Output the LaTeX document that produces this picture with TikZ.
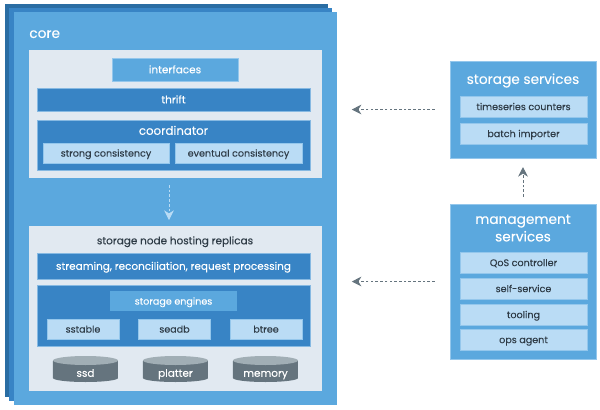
\documentclass[tikz,border=0pt]{standalone}
\usepackage{fontspec}
\setmainfont{Poppins}[FakeBold=0.08]
\usetikzlibrary{arrows.meta}
\definecolor{stackblue}{HTML}{5BA8DE}
\definecolor{midblue}{HTML}{3884C5}
\definecolor{deepblue}{HTML}{2A6DA3}
\definecolor{panelgray}{HTML}{E1E9F1}
\definecolor{paleblue}{HTML}{BADCF5}
\definecolor{slate}{HTML}{65747E}
\definecolor{slatetop}{HTML}{A1AEB5}
\definecolor{inktext}{HTML}{2E3B46}
\tikzset{
    sized/.style 2 args={minimum width=#1*0.02cm,minimum height=#2*0.02cm,inner sep=0pt},
    smalltext/.style={font=\fontsize{5.95}{7.5}\selectfont,text height=6pt,text depth=1.7pt},
    tinytext/.style={font=\fontsize{5.45}{7}\selectfont,text height=5.8pt,text depth=1.7pt},
    bigtext/.style={font=\fontsize{7.8}{10}\selectfont,text height=7pt,text depth=1.4pt,inner sep=0pt},
    layer/.style={fill=#1,draw=none},
    whitebox/.style={fill=midblue,draw=paleblue!60!midblue,line width=0.25pt,text=white,smalltext},
    softbox/.style={fill=stackblue,draw=paleblue!60!stackblue,line width=0.25pt,text=white,smalltext},
    palebox/.style={fill=paleblue,draw=paleblue!60!stackblue,line width=0.25pt,text=inktext,tinytext},
    panel/.style={fill=panelgray,draw=none},
    service/.style={fill=stackblue,draw=paleblue!60!stackblue,line width=0.25pt},
    flow/.style={dash pattern=on 1.5pt off 1.2pt,line width=0.55pt,-{Stealth[length=5.5pt,width=5.5pt]}},
}
\begin{document}
\begin{tikzpicture}[x=0.02cm,y=-0.02cm]
    \useasboundingbox (0,0) rectangle (600,410);
    % stacked core layers
    \filldraw[layer=deepblue] (5,4) rectangle (328,397);
    \filldraw[layer=midblue] (9.5,8) rectangle (332.5,401);
    \node[layer=stackblue,sized={323.5}{393},anchor=north west] (core) at (13.5,12) {};
    \node[anchor=west,text=white,bigtext] (coretitle) at (29,33) {core};

    % upper panel
    \node[panel,sized={293}{128}] (upper) at (175.5,114) {};
    \node[softbox,sized={126}{23}] (interfaces) at (175,69.5) {interfaces};
    \node[whitebox,sized={273}{23}] (thrift) at (173.5,99.5) {thrift};
    \node[whitebox,sized={273}{50}] (coordbox) at (173.5,145) {};
    \node[text=white,smalltext,inner sep=0pt] (coordinator) at (173.5,131) {\fontsize{6.7}{8}\selectfont coordinator};
    \node[palebox,sized={126}{20}] (strong) at (106,153) {strong consistency};
    \node[palebox,sized={127}{20}] (eventual) at (238.5,153) {eventual consistency};

    % lower panel
    \node[panel,sized={293}{165}] (lower) at (175.5,308.5) {};
    \node[text=inktext,smalltext,inner sep=0pt] (hosting) at (175,240.5) {storage node hosting replicas};
    \node[whitebox,sized={273}{26}] (streaming) at (173.5,266) {streaming, reconciliation, request processing};
    \node[whitebox,sized={273}{61}] (enginebox) at (173.5,315.5) {};
    \node[softbox,draw=none,tinytext,sized={127}{20}] (engines) at (173.5,301) {storage engines};
    \node[palebox,sized={72}{20}] (sstable) at (83,329) {sstable};
    \node[palebox,sized={72}{20}] (seadb) at (174.5,329) {seadb};
    \node[palebox,sized={72}{20}] (btree) at (266,329) {btree};

    % disks
    \foreach \name/\cx/\txt in {ssd/85.5/ssd,platter/175.5/platter,memory/265.5/memory} {
        \fill[slate] (\cx-32.5,361) -- (\cx-32.5,378) arc[start angle=180,end angle=0,x radius=32.5,y radius=4]
            -- (\cx+32.5,361) -- cycle;
        \fill[slatetop] (\cx,360.5) ellipse[x radius=32.5,y radius=4.5];
        \node[text=white,smalltext,inner sep=0pt] (\name) at (\cx,373) {\txt};
    }

    % storage services
    \node[service,sized={146}{97}] (storage) at (523,109.5) {};
    \node[text=white,bigtext] (storagetitle) at (523,79) {storage services};
    \node[palebox,sized={127}{21}] (timeseries) at (523.5,106.5) {timeseries counters};
    \node[palebox,sized={127}{21}] (batch) at (523.5,133.5) {batch importer};

    % management services
    \node[service,sized={146}{155}] (management) at (523,281.5) {};
    \node[text=white,bigtext] (mgmttitle) at (523,219) {management};
    \node[text=white,bigtext] (mgmtsub) at (523,236.5) {services};
    \node[palebox,sized={127}{21}] (qos) at (523.5,262.5) {QoS controller};
    \node[palebox,sized={127}{21}] (selfservice) at (523.5,288.5) {self-service};
    \node[palebox,sized={127}{21}] (tooling) at (523.5,314.5) {tooling};
    \node[palebox,sized={127}{21}] (opsagent) at (523.5,339.5) {ops agent};

    % connectors
    \coordinate (replicafrom) at (169,185);
    \coordinate (replicato) at (169,220);
    \draw[flow,paleblue] (replicafrom) -- (replicato);
    \draw[flow,slate,shorten <=8.5pt,shorten >=8pt] (storage.west) -- (storage.west -| core.east);
    \draw[flow,slate,shorten <=8.5pt,shorten >=8pt] (management.west) -- (management.west -| core.east);
    \draw[flow,slate,shorten <=4pt,shorten >=5pt] (management.north) -- (storage.south);
\end{tikzpicture}
\end{document}
